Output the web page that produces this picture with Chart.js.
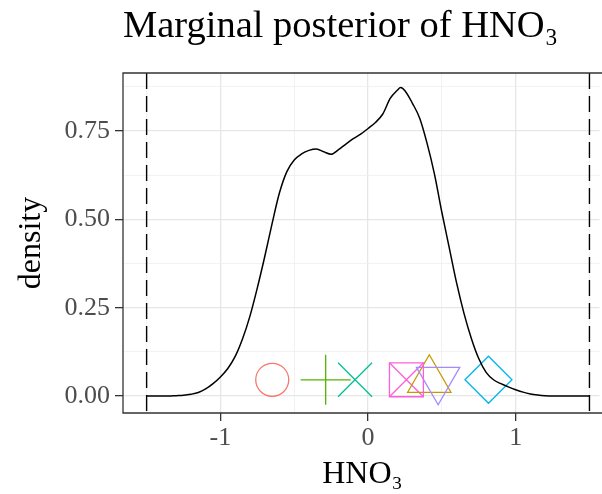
<!DOCTYPE html>
<html>
<head>
<meta charset="utf-8">
<script src="https://cdn.jsdelivr.net/npm/chart.js@4.4.1/dist/chart.umd.min.js"></script>
<style>
  html, body { margin: 0; padding: 0; background: #fff; overflow: hidden; }
  canvas { display: block; }
</style>
</head>
<body>
<canvas id="posterior" width="602" height="494"></canvas>
<script>
// density curve
const hno3 = [
  -1.50, -1.45, -1.40, -1.35, -1.30, -1.25, -1.20, -1.15, -1.10, -1.05,
  -1.00, -0.95, -0.90, -0.85, -0.80, -0.75, -0.70, -0.65, -0.60, -0.55,
  -0.50, -0.45, -0.40, -0.35, -0.30, -0.25, -0.20, -0.15, -0.10, -0.05,
  0.00, 0.05, 0.10, 0.15, 0.20, 0.22, 0.25, 0.30, 0.35, 0.40,
  0.45, 0.50, 0.55, 0.60, 0.65, 0.70, 0.75, 0.80, 0.85, 0.90,
  0.95, 1.00, 1.05, 1.10, 1.15, 1.20, 1.25, 1.30, 1.35, 1.40,
  1.45, 1.50
];
const density = [
  0, 0, 0, 0, 0.001, 0.002, 0.005, 0.010, 0.020, 0.035,
  0.054, 0.078, 0.112, 0.162, 0.226, 0.306, 0.394, 0.488, 0.575, 0.635,
  0.668, 0.685, 0.695, 0.699, 0.691, 0.684, 0.697, 0.713, 0.728, 0.741,
  0.757, 0.774, 0.798, 0.842, 0.866, 0.873, 0.864, 0.829, 0.786, 0.715,
  0.628, 0.520, 0.420, 0.320, 0.234, 0.163, 0.106, 0.067, 0.046, 0.035,
  0.026, 0.018, 0.011, 0.006, 0.003, 0.001, 0, 0, 0, 0,
  0, 0
];

// the seven point estimates shown along the bottom
const sampleX = [-0.649, 0.415, -0.287, -0.088, 0.816, 0.475, 0.26];
const sampleY = [0.046, 0.046, 0.046, 0.046, 0.046, 0.046, 0.046];
const sampleColors = ['#F8766D', '#C49A00', '#53B400', '#00C094', '#00B6EB', '#A58AFF', '#FB61D7'];
const sampleShapes = ['circle', 'triangle', 'plus', 'cross', 'diamond', 'triangleDown', 'squareCross'];

// prior bounds (dashed lines)
const priorBounds = [-1.5, 1.5];

// axes (the panel runs past the right edge of the picture)
const xMin = -1.66;
const xMax = 1.585;
const xGrid = [-1.5, -1, -0.5, 0, 0.5, 1, 1.5];
const xMajor = [-1, 0, 1];
const xLabels = ['-1', '0', '1'];
const yGrid = [0, 0.125, 0.25, 0.375, 0.5, 0.625, 0.75, 0.875];
const yMajor = [0, 0.25, 0.5, 0.75];
const yLabels = ['0.00', '0.25', '0.50', '0.75'];

const serif = "'Liberation Serif', 'DejaVu Serif', serif";
Chart.defaults.font.family = serif;

// map ggplot shapes onto chart.js point styles
const styleOf = {
  circle: ['circle', 16.5, 0],
  triangle: ['triangle', 25, 0],
  plus: ['cross', 25, 0],
  cross: ['crossRot', 24, 0],
  diamond: ['rectRot', 23.5, 0],
  triangleDown: ['triangle', 25, 180],
  squareCross: ['rect', 24, 0]
};

const markers = sampleX.map((x, i) => ({ x, y: sampleY[i] }));
const sqIdx = sampleShapes.indexOf('squareCross');

const boundLines = {
  id: 'boundLines',
  beforeDatasetsDraw(chart) {
    const { ctx, chartArea, scales } = chart;
    ctx.save();
    ctx.strokeStyle = '#000';
    ctx.lineWidth = 1.4;
    ctx.setLineDash([16, 7]);
    priorBounds.forEach(b => {
      const px = scales.x.getPixelForValue(b);
      ctx.beginPath();
      ctx.moveTo(px, chartArea.top);
      ctx.lineTo(px, chartArea.bottom);
      ctx.stroke();
    });
    ctx.restore();
  }
};

// panel frame: top, left and bottom only, the right side is cropped off
const panelBorder = {
  id: 'panelBorder',
  afterDraw(chart) {
    const { ctx, chartArea: a } = chart;
    ctx.save();
    // wipe the edge stroke chart.js leaves at the right of the area
    ctx.fillStyle = '#fff';
    ctx.fillRect(a.right - 2.5, a.top + 1, 3, a.bottom - a.top - 2);
    ctx.strokeStyle = '#333333';
    ctx.lineWidth = 1.3;
    ctx.beginPath();
    ctx.moveTo(a.right + 2, a.top);
    ctx.lineTo(a.left, a.top);
    ctx.lineTo(a.left, a.bottom);
    ctx.lineTo(a.right + 2, a.bottom);
    ctx.stroke();
    ctx.restore();
  }
};

const gridColor = (major) => (c) => major.includes(c.tick.value) ? '#E6E6E6' : '#EFEFEF';
const gridWidth = (major) => (c) => major.includes(c.tick.value) ? 1.3 : 0.8;
const tickColor = (major) => (c) => major.includes(c.tick.value) ? '#333333' : 'rgba(0,0,0,0)';

new Chart(document.getElementById('posterior'), {
  type: 'scatter',
  data: {
    datasets: [
      {
        type: 'line',
        data: hno3.map((x, i) => ({ x, y: density[i] })),
        borderColor: '#000',
        borderWidth: 1.5,
        pointRadius: 0,
        cubicInterpolationMode: 'monotone',
        fill: false
      },
      {
        data: markers,
        pointStyle: sampleShapes.map(s => styleOf[s][0]),
        pointRadius: sampleShapes.map(s => styleOf[s][1]),
        rotation: sampleShapes.map(s => styleOf[s][2]),
        pointBorderColor: sampleColors,
        pointBackgroundColor: 'rgba(0,0,0,0)',
        pointBorderWidth: 1.3
      },
      {
        // the diagonal cross inside the square-cross marker
        data: [markers[sqIdx]],
        pointStyle: 'crossRot',
        pointRadius: 24,
        pointBorderColor: sampleColors[sqIdx],
        pointBorderWidth: 1.3
      }
    ]
  },
  options: {
    responsive: false,
    animation: false,
    events: [],
    devicePixelRatio: 1,
    layout: { padding: 0, autoPadding: false },
    plugins: {
      legend: { display: false },
      tooltip: { enabled: false },
      title: {
        display: true,
        text: 'Marginal posterior of HNO₃',
        align: 'start',
        fullSize: false,
        color: '#000',
        font: { size: 38.5, weight: 'normal', family: serif },
        padding: { top: 4, bottom: 22.8 }
      }
    },
    scales: {
      x: {
        type: 'linear',
        min: xMin,
        max: xMax,
        afterBuildTicks: s => { s.ticks = xGrid.map(v => ({ value: v })); },
        afterFit: s => { s.height = 81; s.paddingLeft = 0; s.paddingRight = 0; },
        border: { display: false },
        grid: { color: gridColor(xMajor), lineWidth: gridWidth(xMajor), tickLength: 8, tickColor: tickColor(xMajor), tickWidth: 1.3 },
        ticks: {
          autoSkip: false, maxRotation: 0, padding: 2,
          color: '#4D4D4D', font: { size: 26 },
          callback: v => { const i = xMajor.indexOf(v); return i >= 0 ? xLabels[i] : ''; }
        },
        title: { display: true, text: 'HNO₃', color: '#000', font: { size: 32 }, padding: { top: 0, bottom: 0 } }
      },
      y: {
        min: -0.048,
        max: 0.914,
        afterBuildTicks: s => { s.ticks = yGrid.map(v => ({ value: v })); },
        afterFit: s => { s.width = 123; s.paddingTop = 0; s.paddingBottom = 0; },
        border: { display: false },
        grid: { color: gridColor(yMajor), lineWidth: gridWidth(yMajor), tickLength: 8, tickColor: tickColor(yMajor), tickWidth: 1.3 },
        ticks: {
          autoSkip: false, padding: 5,
          color: '#4D4D4D', font: { size: 26 },
          callback: v => { const i = yMajor.indexOf(v); return i >= 0 ? yLabels[i] : ''; }
        },
        title: { display: true, text: 'density', color: '#000', font: { size: 32 }, padding: { top: 12, bottom: 0 } }
      }
    }
  },
  plugins: [boundLines, panelBorder]
});
</script>
</body>
</html>
